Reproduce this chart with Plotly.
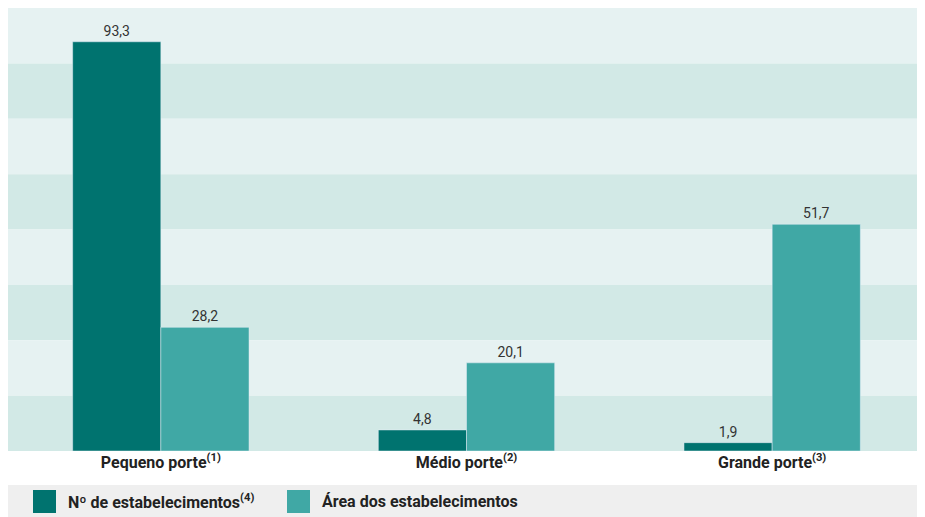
import plotly.graph_objects as go

categories = ["Pequeno porte", "Médio porte", "Grande porte"]
notes = ["(1)", "(2)", "(3)"]
series_names = ["Nº de estabelecimentos", "Área dos estabelecimentos"]
series_notes = ["(4)", ""]
num_estab = [93.3, 4.8, 1.9]
area_estab = [28.2, 20.1, 51.7]
colors = ["#00736F", "#40A8A5"]

FONT = "Roboto, Liberation Sans, sans-serif"

def fmt(v):
    return f"{v:.1f}".replace(".", ",")

fig = go.Figure()
for name, vals, col in zip(series_names, [num_estab, area_estab], colors):
    fig.add_trace(go.Bar(
        x=categories, y=vals, name=name, marker_color=col,
        text=[fmt(v) for v in vals], textposition="outside",
        textfont=dict(family=FONT, size=14, color="#333333"),
        cliponaxis=False, showlegend=False,
    ))

W = 920
H = 509
PW = W - 3.0
PH = 443.0
def py(pix):  # figure pixel y (from top) -> paper coordinate
    return (PH - pix) / PH

XR = 1 + 3 / PW
shapes = []
band_colors = ["#E6F2F2", "#D2E9E6"]
for i in range(8):
    shapes.append(dict(type="rect", xref="paper", yref="paper",
                       x0=0, x1=XR, y0=1 - (i + 1) / 8, y1=1 - i / 8,
                       fillcolor=band_colors[i % 2], line_width=0, layer="below"))
# legend background
shapes.append(dict(type="rect", xref="paper", yref="paper",
                   x0=0, x1=XR, y0=py(H), y1=py(477),
                   fillcolor="#EFEFEF", line_width=0, layer="below"))

annotations = []
leg_x = [25 / PW, 279 / PW]
for i, (name, note, col) in enumerate(zip(series_names, series_notes, colors)):
    shapes.append(dict(type="rect", xref="paper", yref="paper",
                       x0=leg_x[i], x1=leg_x[i] + 23 / PW, y0=py(505), y1=py(482),
                       fillcolor=col, line_width=0))
    txt = f"<b>{name}</b>" + (f"<sup><b>{note}</b></sup>" if note else "")
    annotations.append(dict(xref="paper", yref="paper", x=leg_x[i] + 33 / PW, y=py(493),
                            xanchor="left", yanchor="middle", showarrow=False,
                            text=txt, font=dict(family=FONT, size=16, color="#222222")))

fig.update_layout(
    width=W, height=H,
    margin=dict(l=0, r=3, t=0, b=H - 443, pad=0),
    paper_bgcolor="white", plot_bgcolor="white",
    barmode="group", bargap=0.423, bargroupgap=0,
    shapes=shapes, annotations=annotations,
    xaxis=dict(tickmode="array", tickvals=categories,
               ticktext=[f"<b>{c}</b><sup><b>{n}</b></sup>" for c, n in zip(categories, notes)],
               tickfont=dict(family=FONT, size=16, color="#222222"),
               showgrid=False, zeroline=False, showline=False, ticks=""),
    yaxis=dict(range=[0, 101], visible=False, showgrid=False),
)

fig.write_html("out.html")
